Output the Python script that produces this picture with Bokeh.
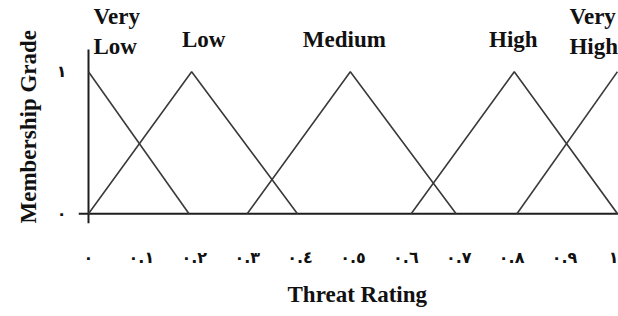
from bokeh.plotting import figure
from bokeh.models import Range1d, FixedTicker, Title, ColumnDataSource
from bokeh.embed import file_html
from bokeh.resources import INLINE
from bokeh.core.properties import value

# ---- data ----
categories = ["Very\nLow", "Low", "Medium", "High", "Very\nHigh"]
very_low_x = [0.0, 0.19]
very_low_y = [1.0, 0.0]
low_x = [0.0, 0.195, 0.395]
low_y = [0.0, 1.0, 0.0]
medium_x = [0.30, 0.495, 0.695]
medium_y = [0.0, 1.0, 0.0]
high_x = [0.61, 0.805, 1.0]
high_y = [0.0, 1.0, 0.0]
very_high_x = [0.81, 1.0]
very_high_y = [0.0, 1.0]
peaks = [0.0, 0.195, 0.495, 0.805, 1.0]
x_ticks = [0.0, 0.1, 0.2, 0.3, 0.4, 0.5, 0.6, 0.7, 0.8, 0.9, 1.0]
x_tick_labels = ["٠", "٠.١", "٠.٢", "٠.٣", "٠.٤", "٠.٥", "٠.٦", "٠.٧", "٠.٨", "٠.٩", "١"]
y_ticks = [0, 1]
y_tick_labels = ["٠", "١"]
x_title = "Threat Rating"
y_title = "Membership Grade"

SERIF = "Liberation Serif"
LINE = "#3a3a3a"
AXIS = "#1e1e1e"
TXT = "#111111"

p = figure(width=618, height=316, output_backend="svg", toolbar_location=None,
           x_range=Range1d(-0.0189, 1.002), y_range=Range1d(-0.0692, 1.502),
           min_border_left=78, min_border_right=0, min_border_top=0, min_border_bottom=89)
p.outline_line_color = None
p.grid.visible = False
p.background_fill_color = "white"
p.border_fill_color = "white"

# axis lines drawn in data space (they overshoot each other like the original)
p.line([-0.0189, 1.01], [0, 0], line_color=AXIS, line_width=2)
p.line([0, 0], [-0.0692, 1.156], line_color=AXIS, line_width=2)

for xs, ys in [(very_low_x, very_low_y), (low_x, low_y), (medium_x, medium_y),
               (high_x, high_y), (very_high_x, very_high_y)]:
    p.line(xs, ys, line_color=LINE, line_width=1.6)

# category labels
offs_x = [5, 12, -6, -1, -48]
aligns = ["left", "center", "center", "center", "left"]
offs_y = [-13, -20, -20, -20, -13]
src = ColumnDataSource(dict(x=peaks, y=[1.0] * 5, t=categories, ox=offs_x, al=aligns, oy=offs_y))
p.text(x="x", y="y", text="t", x_offset="ox", y_offset="oy", text_align="al", source=src,
       text_baseline="bottom", text_font=value(SERIF), text_font_style="bold",
       text_font_size="23px", text_color=TXT, text_line_height=1.2)

# axes
xa = p.xaxis[0]
xa.ticker = FixedTicker(ticks=x_ticks)
xa.major_label_overrides = {t: l for t, l in zip(x_ticks, x_tick_labels)}
xa.axis_line_color = None
xa.major_tick_line_color = None
xa.minor_tick_line_color = None
xa.major_label_standoff = 18
xa.major_label_text_font = "DejaVu Sans"
xa.major_label_text_font_style = "bold"
xa.major_label_text_font_size = "16px"
xa.major_label_text_color = TXT

ya = p.yaxis[0]
ya.ticker = FixedTicker(ticks=y_ticks)
ya.major_label_overrides = {t: l for t, l in zip(y_ticks, y_tick_labels)}
ya.axis_line_color = None
ya.major_tick_line_color = None
ya.minor_tick_line_color = None
ya.major_label_standoff = 6
ya.major_label_orientation = "horizontal"
ya.major_label_text_font = "DejaVu Sans"
ya.major_label_text_font_style = "bold"
ya.major_label_text_font_size = "16px"
ya.major_label_text_color = TXT

p.add_layout(Title(text=x_title, align="left", offset=209, standoff=20,
                   text_font=SERIF, text_font_style="bold", text_font_size="23px",
                   text_color=TXT), "below")
p.add_layout(Title(text=y_title, align="left", offset=0, standoff=26,
                   text_font=SERIF, text_font_style="bold", text_font_size="23px",
                   text_color=TXT), "left")

open("out.html", "w").write(file_html(p, INLINE))
